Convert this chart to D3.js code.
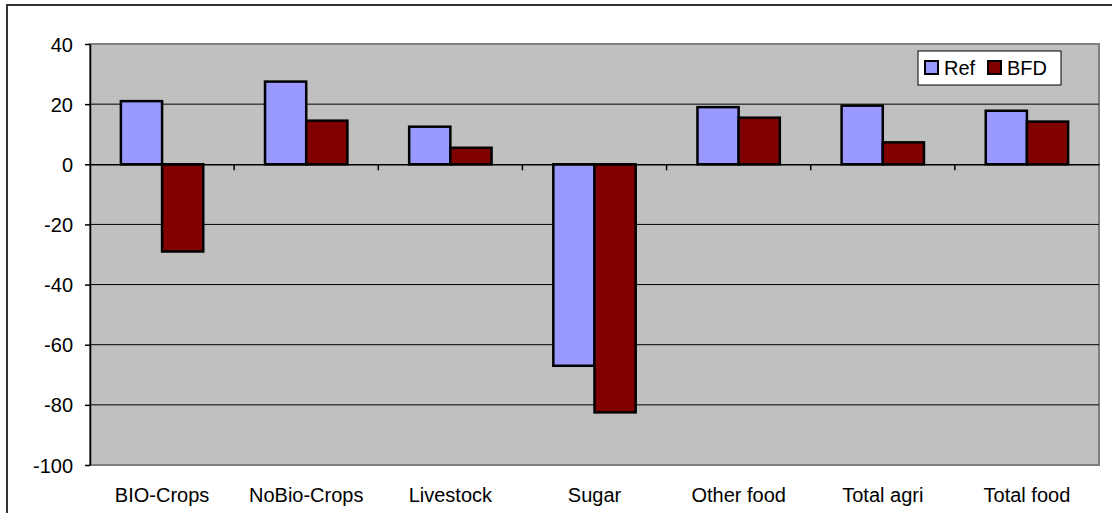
<!DOCTYPE html>
<html>
<head>
<meta charset="utf-8">
<script src="https://cdn.jsdelivr.net/npm/d3@7"></script>
<style>
  body { margin: 0; background: #fff; }
  text { font-family: "Liberation Sans", Arial, sans-serif; fill: #000; }
</style>
</head>
<body>
<div id="chart"></div>
<script>
// categories and series
const categories = ['BIO-Crops','NoBio-Crops','Livestock','Sugar','Other food','Total agri','Total food'];
const refValues = [21, 27.5, 12.5, -67, 19, 19.5, 17.8];
const bfdValues = [-29, 14.5, 5.5, -82.5, 15.5, 7.3, 14.2];
const seriesNames = ['Ref','BFD'];
const seriesColors = ['#9999FF','#800000'];
const yTicks = [-100,-80,-60,-40,-20,0,20,40];

const W = 1112, H = 513;
const pad = { left: 90, right: 1099, top: 44, bottom: 465 };
const fs = '20px';

let svg = d3.select('#chart').append('svg').attr('width',W).attr('height',H);

// outer chart frame (right and bottom run off the picture)
svg.append('rect').attr('x',7).attr('y',5).attr('width',W+20).attr('height',H+20)
  .attr('fill','#fff').attr('stroke','#333').attr('stroke-width',2);

let x = d3.scaleBand().domain(categories).range([pad.left,pad.right]);
let y = d3.scaleLinear().domain([-100,40]).range([pad.bottom,pad.top]);

// plot area
svg.append('rect').attr('x',pad.left).attr('y',pad.top)
  .attr('width',pad.right-pad.left).attr('height',pad.bottom-pad.top)
  .attr('fill','#C0C0C0').attr('stroke','#808080').attr('stroke-width',2);

// grid lines
svg.append('g').selectAll('line').data(yTicks.filter(v => v!=40 && v!=-100 && v!=0)).enter()
  .append('line')
  .attr('x1',pad.left).attr('x2',pad.right)
  .attr('y1',d => y(d)).attr('y2',d => y(d))
  .attr('stroke','#000').attr('stroke-width',1);

// bars, gap width 150% of a bar
const bw = x.bandwidth()/(2+1.5);
const groups = [refValues,bfdValues];
groups.forEach((vals,si) => {
  svg.append('g').selectAll('rect').data(vals).enter().append('rect')
    .attr('x',(d,i) => x(categories[i]) + x.bandwidth()/2 - bw + si*bw)
    .attr('y',d => y(Math.max(0,d)))
    .attr('width',bw)
    .attr('height',d => Math.abs(y(d)-y(0)))
    .attr('fill',seriesColors[si])
    .attr('stroke','#000').attr('stroke-width',2.5);
});

// y axis
let yAxis = d3.axisLeft(y).tickValues(yTicks).tickFormat(d => String(d))
  .tickSize(5).tickSizeOuter(0).tickPadding(12);
let gy = svg.append('g').attr('transform','translate('+pad.left+',0)').call(yAxis);
gy.select('.domain').attr('stroke','#000').attr('stroke-width',1.5);
gy.selectAll('line').attr('stroke','#000').attr('stroke-width',1.5);
gy.selectAll('text').style('font-size',fs).style('font-family','"Liberation Sans", Arial, sans-serif')
  .attr('dy','0.35em');

// x axis on zero line
let xAxis = d3.axisBottom(x).tickSize(0).tickSizeOuter(0);
let gx = svg.append('g').attr('transform','translate(0,'+y(0)+')').call(xAxis);
gx.select('.domain').attr('stroke','#000').attr('stroke-width',1.5);
gx.selectAll('text').style('font-size',fs).style('font-family','"Liberation Sans", Arial, sans-serif')
  .attr('dy',0).attr('y',pad.bottom-y(0)+37);
// category ticks between groups
gx.append('g').selectAll('line').data(categories.slice(1)).enter().append('line')
  .attr('x1',d => x(d)).attr('x2',d => x(d))
  .attr('y1',0).attr('y2',6).attr('stroke','#000').attr('stroke-width',1.5);

// legend
let lg = svg.append('g').attr('transform','translate(918,51)');
lg.append('rect').attr('width',143).attr('height',34)
  .attr('fill','#fff').attr('stroke','#000').attr('stroke-width',1);
const legendX = [7,70];
seriesNames.forEach((n,i) => {
  lg.append('rect').attr('x',legendX[i]).attr('y',10).attr('width',13).attr('height',13)
    .attr('fill',seriesColors[i]).attr('stroke','#000').attr('stroke-width',2);
  lg.append('text').attr('x',legendX[i]+19).attr('y',24).style('font-size',fs).text(n);
});
</script>
</body>
</html>
